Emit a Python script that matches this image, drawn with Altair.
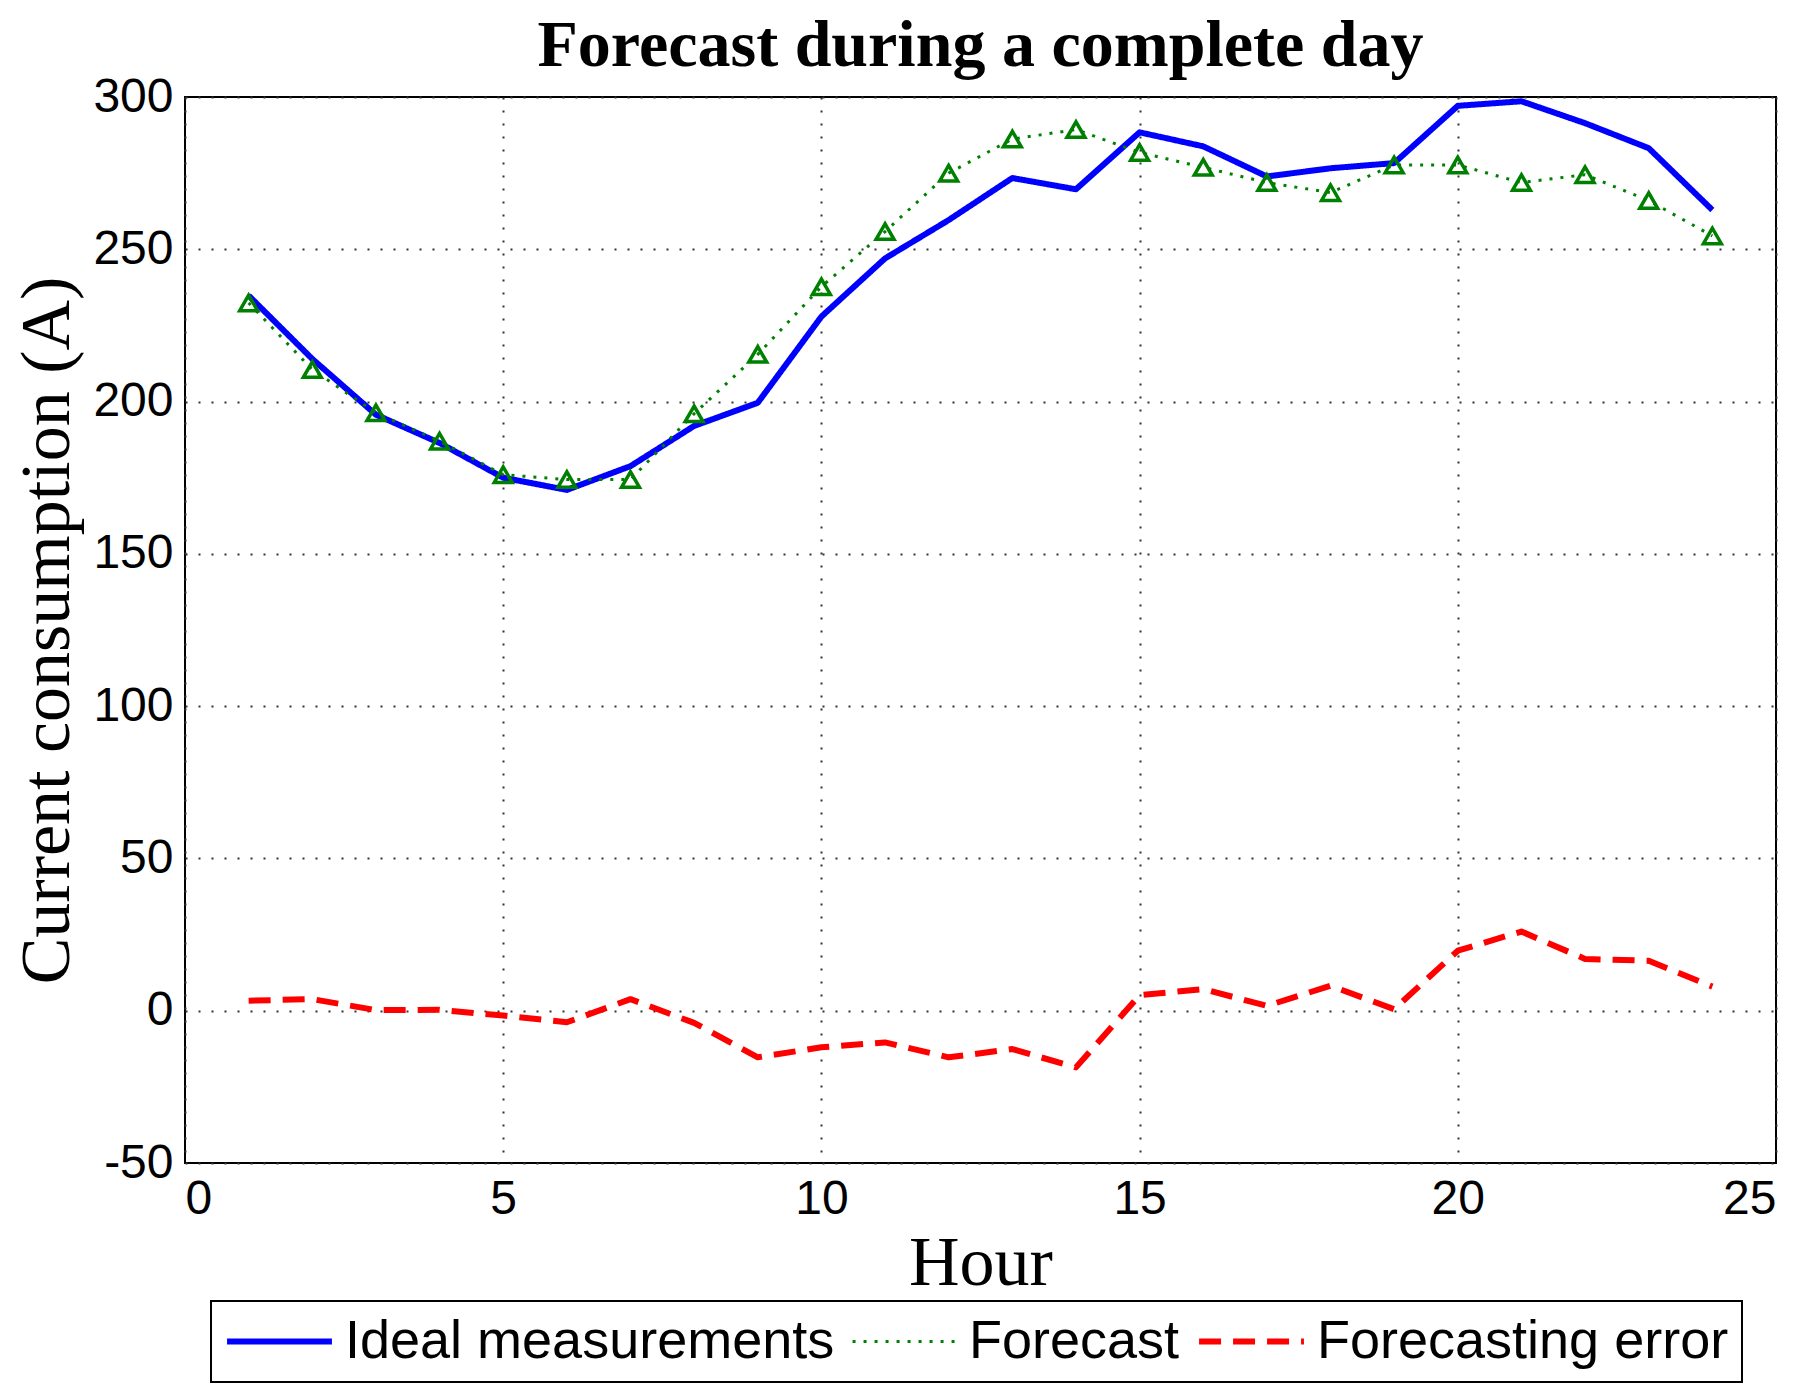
import altair as alt
import pandas as pd

hours = list(range(1, 25))
ideal = [234.8, 214.0, 195.7, 186.4, 175.0, 171.0, 178.8, 192.0, 199.6, 227.9, 247.0, 259.6,
         273.4, 269.7, 288.4, 283.8, 273.9, 276.6, 278.3, 297.1, 298.6, 291.4, 283.2, 262.9]
forecast = [232.4, 210.5, 196.3, 187.0, 176.0, 174.4, 174.4, 196.0, 215.5, 237.7, 255.8, 275.0,
            286.2, 289.3, 281.8, 276.9, 271.9, 268.6, 277.7, 277.7, 271.9, 274.5, 266.0, 254.4]
error = [3.3, 3.8, 0.2, 0.3, -1.6, -3.8, 3.8, -4.0, -15.3, -12.0, -10.4, -15.3,
         -12.6, -18.6, 5.1, 7.1, 1.6, 8.2, 0.5, 19.7, 26.0, 17.0, 16.4, 7.9]
series_names = ["Ideal measurements", "Forecast", "Forecasting error"]
series_colors = ["#0000ff", "#008000", "#ff0000"]
x_ticks = [0, 5, 10, 15, 20, 25]
y_ticks = [-50, 0, 50, 100, 150, 200, 250, 300]

rows = []
for name, vals in zip(series_names, [ideal, forecast, error]):
    for h, v in zip(hours, vals):
        rows.append({"Hour": h, "Value": v, "Series": name})
df = pd.DataFrame(rows)

x_enc = alt.X("Hour:Q", scale=alt.Scale(domain=[0, 25], nice=False),
              axis=alt.Axis(values=x_ticks, title="Hour", labelPadding=12, titlePadding=6,
                            labelExpr="datum.value + ''"))
y_enc = alt.Y("Value:Q", scale=alt.Scale(domain=[-50, 300], nice=False),
              axis=alt.Axis(values=y_ticks, title="Current consumption (A)",
                            labelPadding=12, titlePadding=9, labelExpr="datum.value + ''"))

lines = alt.Chart(df).mark_line(strokeCap="butt", strokeJoin="round").encode(
    x=x_enc,
    y=y_enc,
    color=alt.Color("Series:O", sort=series_names,
                    scale=alt.Scale(domain=series_names, range=series_colors),
                    legend=alt.Legend(title=None)),
    strokeDash=alt.StrokeDash("Series:O", sort=series_names,
                              scale=alt.Scale(domain=series_names, range=[[1, 0], [3, 8], [22, 12]]),
                              legend=alt.Legend(title=None)),
    strokeWidth=alt.StrokeWidth("Series:O", sort=series_names,
                                scale=alt.Scale(type="ordinal", domain=series_names, range=[6, 3, 6]),
                                legend=alt.Legend(title=None)),
    order=alt.Order("Hour:Q"),
)

points = alt.Chart(df).transform_filter(
    alt.datum.Series == "Forecast"
).mark_point(shape="triangle-up", filled=False, color="#008000", size=320, strokeWidth=3.5,
             opacity=1).encode(
    x=alt.X("Hour:Q"),
    y=alt.Y("Value:Q"),
)

chart = alt.layer(lines, points).properties(
    width=1591,
    height=1066,
    padding={"left": 4, "top": 5, "right": 20, "bottom": 10},
    title=alt.TitleParams("Forecast during a complete day", font="Liberation Serif",
                          fontSize=66, fontWeight="bold", color="black", anchor="middle", offset=-7),
).configure_view(
    stroke="black", strokeWidth=2
).configure_axis(
    grid=True, gridDash=[2, 11], gridColor="#333333", gridWidth=2,
    domain=False, ticks=False,
    labelFont="Liberation Sans", labelFontSize=48, labelColor="black",
    titleFont="Liberation Serif", titleFontSize=70, titleFontWeight="normal", titleColor="black",
).configure_legend(
    orient="none", legendX=26, legendY=1204, direction="horizontal",
    symbolType="stroke", symbolSize=11000, clipHeight=55,
    labelFont="Liberation Sans", labelFontSize=54,
    labelColor="black", labelOffset=10, labelLimit=0, columnPadding=16, padding=13,
    strokeColor="black", strokeWidth=2, fillColor="white",
)

chart.save("out.html", embed_options={"renderer": "svg", "actions": False})
